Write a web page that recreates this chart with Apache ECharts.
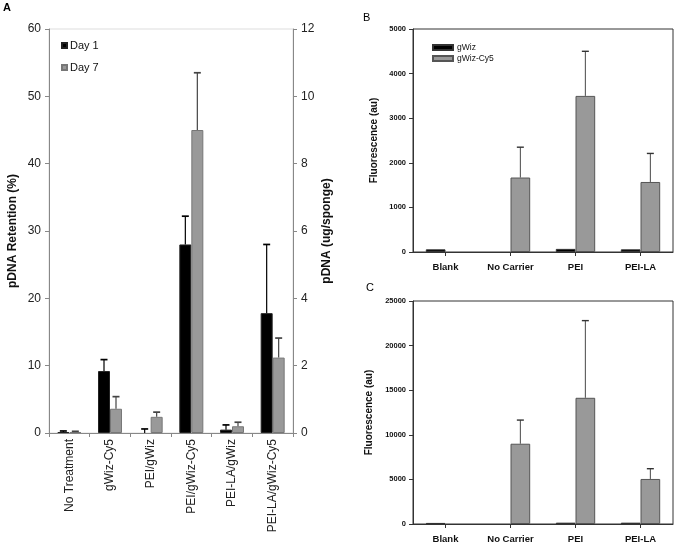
<!DOCTYPE html>
<html>
<head>
<meta charset="utf-8">
<script src="https://cdn.jsdelivr.net/npm/echarts@6/dist/echarts.min.js"></script>
<style>
html,body{margin:0;padding:0;background:#fff;}
#chart{width:676px;height:544px;}
</style>
</head>
<body>
<div id="chart"></div>
<script>
// ---- Panel A data ----
const catsA = ['No Treatment', 'gWiz-Cy5', 'PEI/gWiz', 'PEI/gWiz-Cy5', 'PEI-LA/gWiz', 'PEI-LA/gWiz-Cy5'];
const day1 = [0.15, 9.2, 0, 28, 0.5, 17.8];
const day1Sd = [0.15, 1.7, 0.6, 4.2, 0.7, 10.2];
const day7 = [0.15, 3.6, 2.4, 45, 1.0, 11.2];
const day7Sd = [0.1, 1.8, 0.7, 8.5, 0.6, 2.9];
const ticksALeft = [0, 60, 10];
const ticksARight = [0, 12, 2];

// ---- Panel B data ----
const catsB = ['Blank', 'No Carrier', 'PEI', 'PEI-LA'];
const bGwiz = [60, 0, 70, 60];
const bCy5 = [0, 1670, 3500, 1570];
const bCy5Sd = [0, 680, 1000, 640];
const ticksB = [0, 5000, 1000];

// ---- Panel C data ----
const catsC = ['Blank', 'No Carrier', 'PEI', 'PEI-LA'];
const cGwiz = [120, 0, 150, 150];
const cCy5 = [0, 9000, 14150, 5050];
const cCy5Sd = [0, 2650, 8650, 1150];
const ticksC = [0, 25000, 5000];

const FF = 'Liberation Sans, Arial, sans-serif';
const fracA = 0.295, fracB = 0.303;

// zero values draw no bar at all
function bars(vals) { return vals.map(v => (v === 0 ? '-' : v)); }

function errItem(sign, frac, capW, color, lw) {
  return function (params, api) {
    const x = api.value(0), v = api.value(1), e = api.value(2);
    if (!e) return;
    const bw = api.size([1, 0])[0];
    const off = sign * frac * bw / 2;
    const p0 = api.coord([x, v]);
    const p1 = api.coord([x, v + e]);
    const cx = p0[0] + off;
    return {
      type: 'group', children: [
        { type: 'line', shape: { x1: cx, y1: p0[1], x2: cx, y2: p1[1] }, style: { stroke: color, lineWidth: lw } },
        { type: 'line', shape: { x1: cx - capW / 2, y1: p1[1], x2: cx + capW / 2, y2: p1[1] }, style: { stroke: color, lineWidth: lw + 0.5 } }
      ]
    };
  };
}
function errData(vals, sds) { return vals.map((v, i) => [i, v, sds[i]]); }
const plain = v => String(v);

const chart = echarts.init(document.getElementById('chart'), null, { renderer: 'canvas' });

const axisA = {
  axisLine: { show: true, lineStyle: { color: '#888', width: 1 } },
  axisTick: { show: true, length: 4, lineStyle: { color: '#888' } },
  splitLine: { show: false },
  axisLabel: { color: '#222', fontSize: 12, fontFamily: FF, margin: 8, formatter: plain }
};
const axisBC = {
  axisLine: { show: true, lineStyle: { color: '#333', width: 1 } },
  axisTick: { show: true, length: 4, lineStyle: { color: '#333' } },
  splitLine: { show: false }
};

const option = {
  animation: false,
  backgroundColor: '#fff',
  textStyle: { fontFamily: FF },
  graphic: [
    { type: 'text', left: 3, top: 2, style: { text: 'A', font: 'bold 11px ' + FF, fill: '#000' } },
    { type: 'text', left: 363, top: 12, style: { text: 'B', font: '11px ' + FF, fill: '#000' } },
    { type: 'text', left: 366, top: 282, style: { text: 'C', font: '11px ' + FF, fill: '#000' } }
  ],
  grid: [
    { left: 49, top: 29, width: 244, height: 404, show: true, borderColor: '#ddd', borderWidth: 1 },
    { left: 413, top: 29, width: 260, height: 223, show: true, borderColor: '#333', borderWidth: 1 },
    { left: 413, top: 301, width: 260, height: 223, show: true, borderColor: '#333', borderWidth: 1 }
  ],
  legend: [
    {
      data: ['Day 1', 'Day 7'], orient: 'vertical', left: 56, top: 34,
      itemWidth: 5, itemHeight: 5, itemGap: 9, icon: 'rect',
      textStyle: { fontSize: 11, color: '#111', fontFamily: FF, lineHeight: 13, padding: [0, 0, 0, -2] }
    },
    {
      data: ['gWiz', 'gWiz-Cy5'], orient: 'vertical', left: 427, top: 38,
      itemWidth: 20, itemHeight: 5, itemGap: 2, icon: 'rect',
      textStyle: { fontSize: 8.5, color: '#111', fontFamily: FF, lineHeight: 9, padding: [0, 0, 0, -1] }
    }
  ],
  xAxis: [
    Object.assign({}, axisA, {
      type: 'category', gridIndex: 0, data: catsA,
      axisTick: { show: true, length: 4, lineStyle: { color: '#888' }, alignWithLabel: false },
      axisLabel: { color: '#222', fontSize: 12, fontFamily: FF, rotate: 90, margin: 6, interval: 0 }
    }),
    Object.assign({}, axisBC, {
      type: 'category', gridIndex: 1, data: catsB,
      axisTick: { show: true, length: 4, alignWithLabel: true, lineStyle: { color: '#333' } },
      axisLabel: { color: '#111', fontSize: 9.5, fontWeight: 'bold', fontFamily: FF, margin: 10, interval: 0 }
    }),
    Object.assign({}, axisBC, {
      type: 'category', gridIndex: 2, data: catsC,
      axisTick: { show: true, length: 4, alignWithLabel: true, lineStyle: { color: '#333' } },
      axisLabel: { color: '#111', fontSize: 9.5, fontWeight: 'bold', fontFamily: FF, margin: 10, interval: 0 }
    })
  ],
  yAxis: [
    Object.assign({}, axisA, {
      type: 'value', gridIndex: 0, min: ticksALeft[0], max: ticksALeft[1], interval: ticksALeft[2],
      name: 'pDNA Retention (%)', nameLocation: 'middle', nameRotate: 90, nameGap: 30,
      nameTextStyle: { fontSize: 12, fontWeight: 'bold', color: '#111', fontFamily: FF }
    }),
    Object.assign({}, axisA, {
      type: 'value', gridIndex: 0, position: 'right', min: ticksARight[0], max: ticksARight[1], interval: ticksARight[2],
      name: 'pDNA (ug/sponge)', nameLocation: 'middle', nameRotate: 90, nameGap: 28,
      nameTextStyle: { fontSize: 12, fontWeight: 'bold', color: '#111', fontFamily: FF }
    }),
    Object.assign({}, axisBC, {
      type: 'value', gridIndex: 1, min: ticksB[0], max: ticksB[1], interval: ticksB[2],
      axisLabel: { color: '#111', fontSize: 7.5, fontWeight: 'bold', fontFamily: FF, margin: 7, formatter: plain },
      name: 'Fluorescence (au)', nameLocation: 'middle', nameRotate: 90, nameGap: 34,
      nameTextStyle: { fontSize: 10, fontWeight: 'bold', color: '#111', fontFamily: FF }
    }),
    Object.assign({}, axisBC, {
      type: 'value', gridIndex: 2, min: ticksC[0], max: ticksC[1], interval: ticksC[2],
      axisLabel: { color: '#111', fontSize: 7.5, fontWeight: 'bold', fontFamily: FF, margin: 7, formatter: plain },
      name: 'Fluorescence (au)', nameLocation: 'middle', nameRotate: 90, nameGap: 39,
      nameTextStyle: { fontSize: 10, fontWeight: 'bold', color: '#111', fontFamily: FF }
    })
  ],
  series: [
    // Panel A
    { name: 'Day 1', type: 'bar', xAxisIndex: 0, yAxisIndex: 0, data: bars(day1), barWidth: (fracA * 100) + '%', barGap: '0%',
      itemStyle: { color: '#000', borderColor: '#222', borderWidth: 1 } },
    { name: 'Day 7', type: 'bar', xAxisIndex: 0, yAxisIndex: 0, data: bars(day7), barWidth: (fracA * 100) + '%', barGap: '0%',
      itemStyle: { color: '#999', borderColor: '#777', borderWidth: 1 } },
    { type: 'custom', xAxisIndex: 0, yAxisIndex: 0, data: errData(day1, day1Sd), encode: { x: 0, y: 1 },
      renderItem: errItem(-1, fracA, 7, '#000', 1.2), z: 3 },
    { type: 'custom', xAxisIndex: 0, yAxisIndex: 0, data: errData(day7, day7Sd), encode: { x: 0, y: 1 },
      renderItem: errItem(1, fracA, 7, '#444', 1.2), z: 3 },
    // Panel B
    { name: 'gWiz', type: 'bar', xAxisIndex: 1, yAxisIndex: 2, data: bars(bGwiz), barWidth: (fracB * 100) + '%', barGap: '0%',
      itemStyle: { color: '#000', borderColor: '#333', borderWidth: 1 } },
    { name: 'gWiz-Cy5', type: 'bar', xAxisIndex: 1, yAxisIndex: 2, data: bars(bCy5), barWidth: (fracB * 100) + '%', barGap: '0%',
      itemStyle: { color: '#999', borderColor: '#555', borderWidth: 1 } },
    { type: 'custom', xAxisIndex: 1, yAxisIndex: 2, data: errData(bCy5, bCy5Sd), encode: { x: 0, y: 1 },
      renderItem: errItem(1, fracB, 7, '#333', 0.9), z: 3 },
    // Panel C
    { name: 'gWiz', type: 'bar', xAxisIndex: 2, yAxisIndex: 3, data: bars(cGwiz), barWidth: (fracB * 100) + '%', barGap: '0%',
      itemStyle: { color: '#000', borderColor: '#333', borderWidth: 1 } },
    { name: 'gWiz-Cy5', type: 'bar', xAxisIndex: 2, yAxisIndex: 3, data: bars(cCy5), barWidth: (fracB * 100) + '%', barGap: '0%',
      itemStyle: { color: '#999', borderColor: '#555', borderWidth: 1 } },
    { type: 'custom', xAxisIndex: 2, yAxisIndex: 3, data: errData(cCy5, cCy5Sd), encode: { x: 0, y: 1 },
      renderItem: errItem(1, fracB, 7, '#333', 0.9), z: 3 }
  ]
};
chart.setOption(option);
</script>
</body>
</html>
